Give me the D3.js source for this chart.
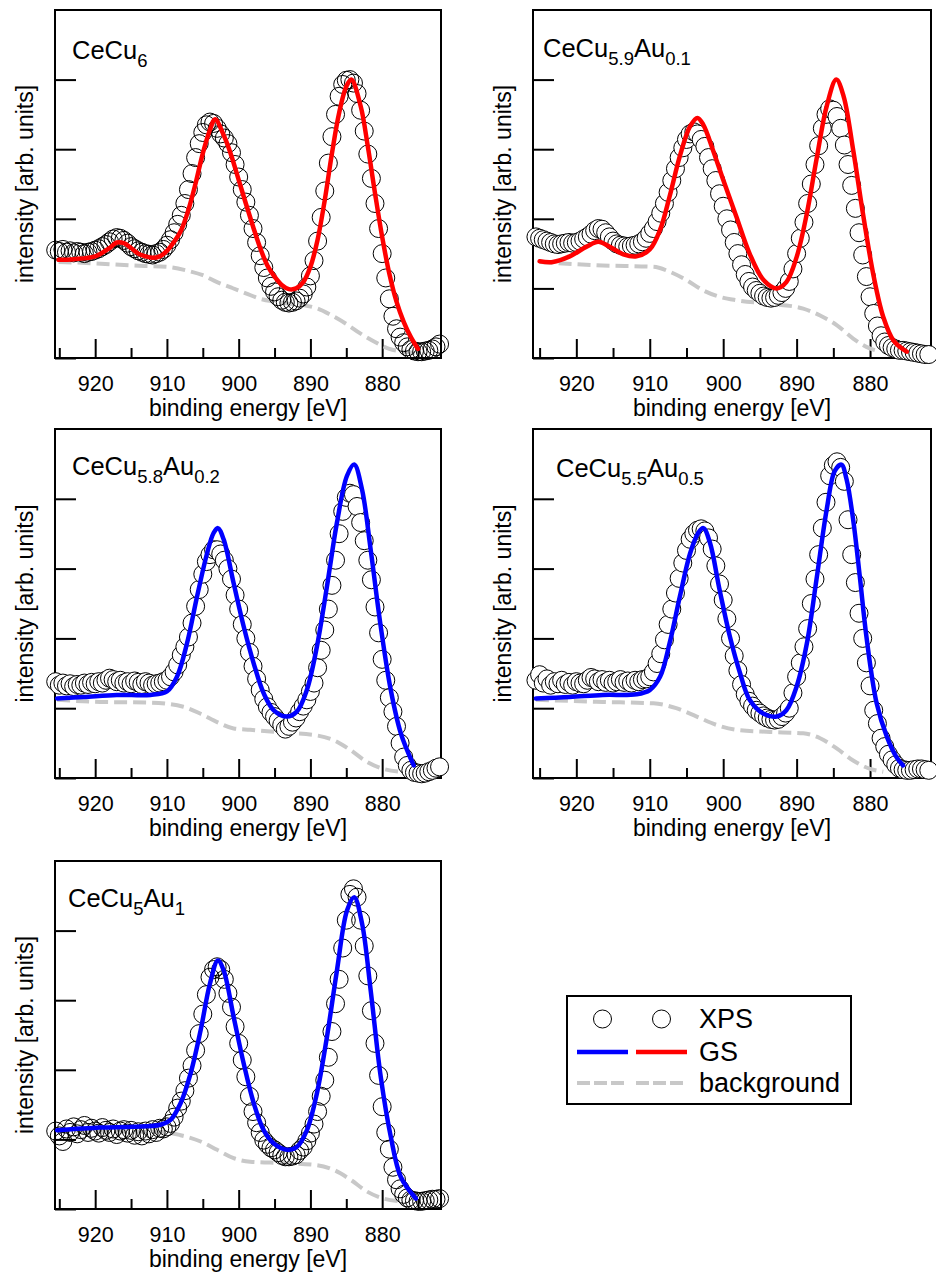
<!DOCTYPE html>
<html lang="en">
<head>
<meta charset="utf-8">
<title>Ce 3d XPS spectra of CeCu6-xAux</title>
<script src="https://d3js.org/d3.v7.min.js"></script>
<style>
  body { margin: 0; background: #fff; }
  svg { display: block; font-family: "Liberation Sans", Arial, Helvetica, sans-serif; }
</style>
</head>
<body>
<div id="chart"></div>
<script>
// binding energy grid of the measured spectra [eV]
const energy = [
  925.5, 925, 924.5, 924, 923.5, 923, 922.5, 922, 921.5, 921,
  920.5, 920, 919.5, 919, 918.5, 918, 917.5, 917, 916.5, 916,
  915.5, 915, 914.5, 914, 913.5, 913, 912.5, 912, 911.5, 911,
  910.5, 910, 909.5, 909, 908.5, 908, 907.5, 907, 906.5, 906,
  905.5, 905, 904.5, 904, 903.5, 903, 902.5, 902, 901.5, 901,
  900.5, 900, 899.5, 899, 898.5, 898, 897.5, 897, 896.5, 896,
  895.5, 895, 894.5, 894, 893.5, 893, 892.5, 892, 891.5, 891,
  890.5, 890, 889.5, 889, 888.5, 888, 887.5, 887, 886.5, 886,
  885.5, 885, 884.5, 884, 883.5, 883, 882.5, 882, 881.5, 881,
  880.5, 880, 879.5, 879, 878.5, 878, 877.5, 877, 876.5, 876,
  875.5, 875, 874.5, 874, 873.5, 873, 872.5, 872
];

// XPS intensities (arb. units, same grid as energy)
const xpsCeCu6 = [
  1.55, 1.53, 1.56, 1.52, 1.54, 1.51, 1.53, 1.52, 1.50, 1.52,
  1.53, 1.55, 1.57, 1.60, 1.63, 1.67, 1.71, 1.73, 1.72, 1.69,
  1.65, 1.60, 1.57, 1.54, 1.52, 1.50, 1.49, 1.48, 1.50, 1.52,
  1.56, 1.62, 1.70, 1.80, 1.92, 2.05, 2.22, 2.42, 2.65, 2.88,
  3.08, 3.24, 3.35, 3.39, 3.37, 3.30, 3.22, 3.16, 3.08, 2.95,
  2.78, 2.60, 2.42, 2.24, 2.05, 1.86, 1.66, 1.47, 1.30, 1.15,
  1.03, 0.95, 0.88, 0.83, 0.80, 0.79, 0.80, 0.82, 0.86, 0.92,
  1.02, 1.18, 1.40, 1.68, 2.02, 2.40, 2.80, 3.18, 3.50, 3.76,
  3.93, 3.99, 4.00, 3.95, 3.80, 3.56, 3.26, 2.93, 2.58, 2.22,
  1.86, 1.50, 1.15, 0.85, 0.60, 0.42, 0.30, 0.22, 0.16, 0.12,
  0.10, 0.09, 0.09, 0.10, 0.11, 0.13, 0.16, 0.20
];
const xpsAu01 = [
  1.74, 1.72, 1.70, 1.68, 1.66, 1.64, 1.63, 1.64, 1.65, 1.66,
  1.65, 1.66, 1.68, 1.71, 1.74, 1.78, 1.83, 1.86, 1.85, 1.80,
  1.74, 1.68, 1.64, 1.62, 1.61, 1.60, 1.61, 1.62, 1.64, 1.67,
  1.72, 1.79, 1.86, 1.96, 2.08, 2.22, 2.38, 2.55, 2.72, 2.88,
  3.02, 3.14, 3.22, 3.25, 3.22, 3.14, 3.04, 2.88, 2.72, 2.55,
  2.36, 2.18, 2.00, 1.84, 1.66, 1.50, 1.34, 1.20, 1.10, 1.02,
  0.97, 0.93, 0.89, 0.87, 0.86, 0.87, 0.90, 0.94, 1.00, 1.10,
  1.28, 1.50, 1.72, 1.95, 2.22, 2.50, 2.78, 3.05, 3.30, 3.50,
  3.58, 3.56, 3.47, 3.30, 3.06, 2.78, 2.48, 2.15, 1.80, 1.48,
  1.17, 0.88, 0.64, 0.46, 0.32, 0.23, 0.18, 0.15, 0.13, 0.11,
  0.11, 0.10, 0.09, 0.08, 0.07, 0.06, 0.05, 0.05
];
const xpsAu02 = [
  1.38, 1.33, 1.36, 1.32, 1.35, 1.31, 1.34, 1.33, 1.36, 1.34,
  1.37, 1.35, 1.38, 1.36, 1.40, 1.43, 1.41, 1.38, 1.40, 1.36,
  1.38, 1.35, 1.39, 1.37, 1.34, 1.38, 1.36, 1.33, 1.35, 1.36,
  1.38, 1.40, 1.45, 1.52, 1.62, 1.76, 1.88, 2.02, 2.22, 2.46,
  2.70, 2.92, 3.10, 3.20, 3.27, 3.27, 3.21, 3.12, 3.00, 2.85,
  2.62, 2.42, 2.20, 2.00, 1.80, 1.60, 1.42, 1.26, 1.13, 1.02,
  0.94, 0.88, 0.82, 0.76, 0.70, 0.74, 0.80, 0.86, 0.95, 1.03,
  1.12, 1.24, 1.36, 1.58, 1.83, 2.12, 2.42, 2.76, 3.12, 3.50,
  3.82, 4.02, 4.08, 4.06, 3.89, 3.66, 3.40, 3.12, 2.84, 2.45,
  2.08, 1.70, 1.40, 1.15, 0.95, 0.74, 0.50, 0.30, 0.18, 0.11,
  0.08, 0.07, 0.06, 0.07, 0.09, 0.11, 0.14, 0.16
];
const xpsAu05 = [
  1.40, 1.48, 1.36, 1.42, 1.33, 1.38, 1.35, 1.40, 1.34, 1.37,
  1.33, 1.38, 1.36, 1.35, 1.40, 1.44, 1.42, 1.38, 1.41, 1.37,
  1.40, 1.36, 1.38, 1.41, 1.37, 1.39, 1.36, 1.40, 1.38, 1.41,
  1.42, 1.45, 1.52, 1.64, 1.78, 1.98, 2.20, 2.42, 2.65, 2.86,
  3.08, 3.26, 3.42, 3.50, 3.55, 3.57, 3.54, 3.44, 3.28, 3.04,
  2.78, 2.55, 2.28, 2.00, 1.75, 1.54, 1.34, 1.20, 1.10, 1.03,
  0.97, 0.93, 0.89, 0.86, 0.84, 0.83, 0.84, 0.88, 0.93, 1.00,
  1.22, 1.45, 1.65, 1.88, 2.14, 2.50, 2.85, 3.20, 3.58, 3.95,
  4.33, 4.48, 4.53, 4.45, 4.25, 3.70, 3.20, 2.80, 2.36, 2.00,
  1.65, 1.32, 0.97, 0.78, 0.57, 0.45, 0.34, 0.26, 0.19, 0.14,
  0.12, 0.11, 0.11, 0.12, 0.13, 0.13, 0.12, 0.11
];
const xpsAu1 = [
  1.12, 1.05, 0.97, 1.15, 1.10, 1.18, 1.08, 1.14, 1.20, 1.10,
  1.16, 1.12, 1.09, 1.17, 1.13, 1.10, 1.15, 1.07, 1.12, 1.14,
  1.09, 1.13, 1.06, 1.11, 1.05, 1.12, 1.08, 1.14, 1.10, 1.16,
  1.15, 1.18, 1.23, 1.32, 1.45, 1.55, 1.70, 1.88, 2.06, 2.28,
  2.52, 2.80, 3.08, 3.33, 3.44, 3.48, 3.44, 3.30, 3.10, 2.90,
  2.62, 2.38, 2.14, 1.90, 1.62, 1.40, 1.24, 1.10, 0.99, 0.93,
  0.88, 0.85, 0.81, 0.77, 0.75, 0.75, 0.76, 0.78, 0.84, 0.89,
  0.98, 1.09, 1.22, 1.40, 1.62, 1.85, 2.18, 2.55, 2.95, 3.30,
  3.75, 4.15, 4.52, 4.60, 4.48, 4.15, 3.78, 3.35, 2.85, 2.38,
  1.92, 1.47, 1.10, 0.86, 0.60, 0.42, 0.29, 0.21, 0.16, 0.13,
  0.12, 0.11, 0.11, 0.12, 0.13, 0.14, 0.14, 0.15
];

// GS model curves: energies and intensities
const fitECeCu6 = [925.1, 923, 920, 918, 917, 916, 915, 914, 913, 912, 911, 910, 909, 908, 907, 906, 905, 904, 903.3, 902,
  901, 900, 899, 898, 897, 896, 895, 894, 893, 892, 891, 890, 889, 888, 887, 886, 885, 884.3, 883, 882,
  881, 880, 879, 878, 877, 876, 875];
const fitCeCu6 = [1.41, 1.42, 1.46, 1.58, 1.66, 1.65, 1.58, 1.50, 1.46, 1.44, 1.46, 1.54, 1.67, 1.84, 2.13, 2.51, 2.94, 3.28, 3.43, 3.18,
  2.90, 2.56, 2.22, 1.89, 1.58, 1.33, 1.17, 1.05, 0.99, 1.00, 1.09, 1.31, 1.70, 2.27, 2.94, 3.52, 3.90, 4.00, 3.62, 3.04,
  2.37, 1.74, 1.21, 0.81, 0.52, 0.30, 0.13];
const fitEAu01 = [925, 923.2, 920.9, 918.6, 917, 915.5, 913.6, 911.8, 910, 908.6, 907.3, 905.9, 904.5, 903.5, 902.7, 901.4, 900,
  898.2, 896.4, 894.5, 892.7, 891.4, 890, 888.6, 887.3, 885.9, 884.6, 883.6, 882.3, 880.9, 879.5, 878.2, 876.8, 875];
const fitAu01 = [1.39, 1.38, 1.46, 1.60, 1.67, 1.60, 1.49, 1.46, 1.56, 1.84, 2.32, 2.90, 3.33, 3.45, 3.35, 2.99, 2.56,
  2.03, 1.50, 1.12, 1.00, 1.09, 1.45, 2.08, 2.85, 3.62, 4.00, 3.76, 2.99, 2.03, 1.17, 0.59, 0.25, 0.09];
const fitEAu02 = [925.3, 921.6, 917, 912.3, 910, 908.6, 907.2, 905.8, 904.4, 903.5, 902.9, 902.1, 900.7, 899.3, 897.9, 896.5,
  895.1, 893.3, 891.9, 890.5, 889.1, 887.7, 886.3, 884.9, 883.9, 882.8, 881.6, 880.2, 878.8, 877.4, 875.6];
const fitAu02 = [1.14, 1.16, 1.19, 1.19, 1.24, 1.45, 1.93, 2.60, 3.22, 3.51, 3.58, 3.42, 2.79, 2.17, 1.64, 1.21,
  0.97, 0.88, 0.95, 1.26, 1.88, 2.74, 3.66, 4.33, 4.49, 4.13, 3.27, 2.17, 1.26, 0.64, 0.18];
const fitEAu05 = [925.5, 920.9, 916.4, 911.8, 910, 908.6, 907.3, 905.9, 904.5, 903.4, 902.7, 901.8, 900.5, 899.1, 897.7, 896.4,
  894.5, 892.7, 891.4, 890, 888.6, 887.3, 885.9, 884.8, 883.9, 883.2, 882.3, 881.4, 880.5, 879.1, 877.7, 876.4, 875.5];
const fitAu05 = [1.14, 1.16, 1.19, 1.20, 1.26, 1.45, 1.93, 2.60, 3.22, 3.51, 3.58, 3.37, 2.70, 2.03, 1.50, 1.12,
  0.92, 0.88, 0.97, 1.31, 1.93, 2.84, 3.85, 4.40, 4.49, 4.28, 3.70, 2.89, 2.03, 1.07, 0.59, 0.30, 0.18];
const fitEAu1 = [925.3, 919.3, 914.7, 910.9, 909.5, 908.1, 906.7, 905.3, 904, 902.9, 902.1, 900.7, 899.3, 897.9, 896.5,
  895.1, 893.3, 891.9, 890.5, 889.1, 887.7, 886.3, 884.9, 883.9, 882.8, 881.6, 880.2, 878.8, 877.4, 875.3];
const fitAu1 = [1.13, 1.17, 1.18, 1.21, 1.28, 1.52, 1.95, 2.57, 3.24, 3.57, 3.43, 2.76, 2.09, 1.52, 1.13,
  0.94, 0.85, 0.89, 1.13, 1.66, 2.47, 3.43, 4.29, 4.48, 4.10, 3.14, 1.90, 1.04, 0.46, 0.15];

// background curves: energies and intensities
const bgECeCu6 = [925.1, 920, 915, 910, 907, 905, 903, 901, 899, 897, 895, 893, 891, 889, 887, 885, 883, 881, 879, 877, 875];
const bgCeCu6 = [1.38, 1.36, 1.33, 1.31, 1.25, 1.19, 1.09, 1.01, 0.93, 0.85, 0.81, 0.78, 0.76, 0.71, 0.61, 0.49, 0.35, 0.23, 0.13, 0.09, 0.07];
const bgEAu01 = [925, 916.4, 909.5, 907.3, 905, 902.7, 900.5, 898.2, 893.6, 889.1, 886.8, 884.5, 882.3, 880.5, 878.6];
const bgAu01 = [1.38, 1.33, 1.31, 1.24, 1.12, 0.97, 0.88, 0.83, 0.78, 0.71, 0.61, 0.47, 0.28, 0.16, 0.09];
const bgEAu02 = [925.3, 919.3, 912.3, 907.7, 905.3, 903, 900.7, 898.4, 893.7, 889.1, 886.7, 884.4, 882.1, 879.8, 877.4];
const bgAu02 = [1.12, 1.09, 1.08, 1.02, 0.92, 0.80, 0.71, 0.69, 0.65, 0.61, 0.54, 0.40, 0.23, 0.13, 0.09];
const bgEAu05 = [925.5, 916.4, 909.5, 906.4, 903.6, 900.9, 898.2, 893.6, 889.1, 886.8, 884.5, 882.3, 880, 878.2];
const bgAu05 = [1.12, 1.09, 1.07, 1.00, 0.88, 0.76, 0.69, 0.66, 0.64, 0.57, 0.42, 0.25, 0.13, 0.09];
const bgEAu1 = [925.3, 915, 910.9, 908.1, 905.3, 903, 900.7, 898.4, 893.7, 889.1, 886.7, 884.4, 882.1, 879.8, 877.4];
const bgAu1 = [1.12, 1.11, 1.11, 1.06, 0.97, 0.85, 0.73, 0.68, 0.66, 0.63, 0.56, 0.42, 0.25, 0.15, 0.11];

// axis ticks
const majorTicks = [920, 910, 900, 890, 880];
const minorTicks = [925, 915, 905, 895, 885, 875];
const yTicks = [0, 1, 2, 3, 4];

// sample names: [text, subscript?]
const titles = [
  [["CeCu", false], ["6", true]],
  [["CeCu", false], ["5.9", true], ["Au", false], ["0.1", true]],
  [["CeCu", false], ["5.8", true], ["Au", false], ["0.2", true]],
  [["CeCu", false], ["5.5", true], ["Au", false], ["0.5", true]],
  [["CeCu", false], ["5", true], ["Au", false], ["1", true]]
];

const legendLabels = ["XPS", "GS", "background"];

const RED = "#ff0000", BLUE = "#0000ff", GREY = "#c8c8c8";

// panel layout
const panels = [
  { title: titles[0], xps: xpsCeCu6, fitE: fitECeCu6, fit: fitCeCu6, bgE: bgECeCu6, bg: bgCeCu6,
    color: RED, fill: "none", left: 55, right: 441, top: 10, bottom: 358, dom: [925.6, 871.8], tx: 72, ty: 59 },
  { title: titles[1], xps: xpsAu01, fitE: fitEAu01, fit: fitAu01, bgE: bgEAu01, bg: bgAu01,
    color: RED, fill: "#fff", left: 533, right: 931, top: 10, bottom: 358, dom: [925.9, 871.7], tx: 543, ty: 57 },
  { title: titles[2], xps: xpsAu02, fitE: fitEAu02, fit: fitAu02, bgE: bgEAu02, bg: bgAu02,
    color: BLUE, fill: "#fff", left: 55, right: 441, top: 429, bottom: 778, dom: [925.6, 871.8], tx: 72, ty: 475 },
  { title: titles[3], xps: xpsAu05, fitE: fitEAu05, fit: fitAu05, bgE: bgEAu05, bg: bgAu05,
    color: BLUE, fill: "#fff", left: 533, right: 931, top: 429, bottom: 778, dom: [925.9, 871.7], tx: 556, ty: 477 },
  { title: titles[4], xps: xpsAu1, fitE: fitEAu1, fit: fitAu1, bgE: bgEAu1, bg: bgAu1,
    color: BLUE, fill: "none", left: 55, right: 441, top: 861, bottom: 1209, dom: [925.6, 871.8], tx: 68, ty: 907 }
];

const svg = d3.select("#chart")
  .append("svg")
  .attr("width", 936)
  .attr("height", 1274);

panels.forEach(p => {
  const x = d3.scaleLinear().domain(p.dom).range([p.left, p.right]);
  const y = d3.scaleLinear().domain([0, 5]).range([p.bottom, p.top]);
  const g = svg.append("g");

  // frame
  g.append("rect")
    .attr("x", p.left).attr("y", p.top)
    .attr("width", p.right - p.left).attr("height", p.bottom - p.top)
    .attr("fill", "none").attr("stroke", "#000").attr("stroke-width", 2);

  // x axis: labelled major ticks, short minor ticks, all pointing inward
  const xa = g.append("g")
    .attr("transform", `translate(0,${p.bottom})`)
    .call(d3.axisBottom(x).tickValues(majorTicks).tickSize(-19).tickPadding(18).tickFormat(d3.format("d")));
  const xm = g.append("g")
    .attr("transform", `translate(0,${p.bottom})`)
    .call(d3.axisBottom(x).tickValues(minorTicks).tickSize(-10).tickFormat(""));
  const ya = g.append("g")
    .attr("transform", `translate(${p.left},0)`)
    .call(d3.axisLeft(y).tickValues(yTicks).tickSize(-21).tickFormat(""));
  [xa, xm, ya].forEach(a => {
    a.select(".domain").remove();
    a.attr("font-family", null).attr("font-size", 21.5);
    a.selectAll("line").attr("stroke-width", 2);
  });

  // axis titles
  g.append("text")
    .attr("x", (p.left + p.right) / 2).attr("y", p.bottom + 58)
    .attr("text-anchor", "middle").attr("font-size", 23)
    .text("binding energy [eV]");
  g.append("text")
    .attr("transform", `translate(${p.left - 22},${(p.top + p.bottom) / 2}) rotate(-90)`)
    .attr("text-anchor", "middle").attr("font-size", 23)
    .text("intensity [arb. units]");

  // background
  const bgLine = d3.line().x((d, i) => x(p.bgE[i])).y(d => y(d)).curve(d3.curveMonotoneX);
  g.append("path")
    .attr("d", bgLine(p.bg))
    .attr("fill", "none").attr("stroke", GREY).attr("stroke-width", 4)
    .attr("stroke-dasharray", "13,6");

  // measured points
  g.append("g").selectAll("circle")
    .data(p.xps)
    .join("circle")
    .attr("cx", (d, i) => x(energy[i]))
    .attr("cy", d => y(d))
    .attr("r", 9)
    .attr("fill", p.fill)
    .attr("stroke", "#000")
    .attr("stroke-width", 1);

  // GS model
  const fitLine = d3.line().x((d, i) => x(p.fitE[i])).y(d => y(d)).curve(d3.curveCatmullRom.alpha(0.5));
  g.append("path")
    .attr("d", fitLine(p.fit))
    .attr("fill", "none").attr("stroke", p.color).attr("stroke-width", 4.5)
    .attr("stroke-linejoin", "round").attr("stroke-linecap", "round");

  // sample name with subscripts
  const t = g.append("text").attr("x", p.tx).attr("y", p.ty).attr("font-size", 25.5);
  let shifted = false;
  p.title.forEach(([s, sub]) => {
    const dy = sub === shifted ? 0 : (sub ? 7.5 : -7.5);
    t.append("tspan").attr("dy", dy).attr("font-size", sub ? 18.5 : 25.5).text(s);
    shifted = sub;
  });
});

// legend
const lg = svg.append("g");
lg.append("rect")
  .attr("x", 567).attr("y", 996).attr("width", 284).attr("height", 108)
  .attr("fill", "#fff").attr("stroke", "#000").attr("stroke-width", 2);
const rowY = [1019, 1052, 1083];
const symX = [[577, 628], [636, 687]];
lg.selectAll("circle.key")
  .data(symX)
  .join("circle")
  .attr("class", "key")
  .attr("cx", d => (d[0] + d[1]) / 2).attr("cy", rowY[0]).attr("r", 9)
  .attr("fill", "none").attr("stroke", "#000").attr("stroke-width", 1);
lg.selectAll("line.gs")
  .data(symX)
  .join("line")
  .attr("class", "gs")
  .attr("x1", d => d[0]).attr("x2", d => d[1])
  .attr("y1", rowY[1]).attr("y2", rowY[1])
  .attr("stroke", (d, i) => i === 0 ? BLUE : RED).attr("stroke-width", 4.5);
lg.selectAll("line.bg")
  .data(symX)
  .join("line")
  .attr("class", "bg")
  .attr("x1", d => d[0]).attr("x2", d => d[1])
  .attr("y1", rowY[2]).attr("y2", rowY[2])
  .attr("stroke", GREY).attr("stroke-width", 4).attr("stroke-dasharray", "13,4");
lg.selectAll("text")
  .data(legendLabels)
  .join("text")
  .attr("x", 699).attr("y", (d, i) => rowY[i] + 9)
  .attr("font-size", 27)
  .text(d => d);
</script>
</body>
</html>
